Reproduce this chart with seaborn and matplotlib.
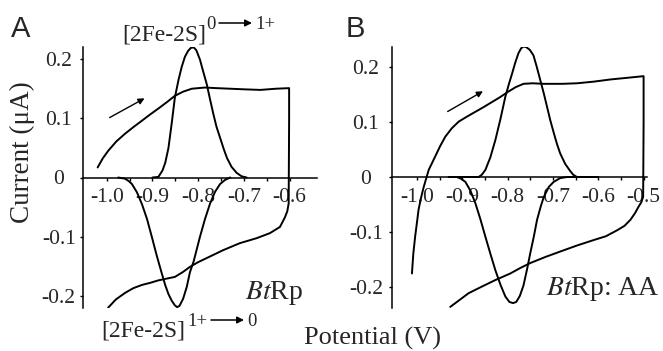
import numpy as np
import pandas as pd
import matplotlib
matplotlib.use("Agg")
import matplotlib.pyplot as plt
from matplotlib.patches import FancyArrowPatch
import seaborn as sns

# ---------------- data ----------------
# Panel A: raw cyclic voltammogram (forward then reverse sweep)
a_cv_v = [-1.020, -1.009, -0.997, -0.979, -0.960, -0.942, -0.923, -0.906, -0.888, -0.869,
          -0.851, -0.833, -0.814, -0.800, -0.785, -0.760, -0.730, -0.700, -0.664, -0.630,
          -0.601, -0.601, -0.602, -0.605, -0.610, -0.621, -0.643, -0.672, -0.709, -0.746,
          -0.781, -0.800, -0.818, -0.834, -0.851, -0.870, -0.888, -0.905, -0.923, -0.942,
          -0.960, -0.980, -0.997]
a_cv_i = [0.017, 0.032, 0.045, 0.061, 0.074, 0.085, 0.096, 0.106, 0.116, 0.127,
          0.138, 0.145, 0.150, 0.151, 0.152, 0.151, 0.150, 0.149, 0.148, 0.150,
          0.151, 0.100, -0.044, -0.057, -0.067, -0.0835, -0.094, -0.1025, -0.111, -0.123,
          -0.136, -0.143, -0.151, -0.160, -0.168, -0.171, -0.174, -0.178, -0.1815, -0.187,
          -0.195, -0.206, -0.220]
# Panel A: baseline-subtracted oxidation peak
a_ox_v = [-0.900, -0.887, -0.878, -0.872, -0.865, -0.858, -0.851, -0.843, -0.836, -0.829,
          -0.822, -0.816, -0.810, -0.804, -0.796, -0.789, -0.781, -0.774, -0.767, -0.760,
          -0.752, -0.744, -0.737, -0.727, -0.716, -0.705, -0.694]
a_ox_i = [0.0, 0.001, 0.012, 0.025, 0.050, 0.091, 0.135, 0.165, 0.187, 0.204,
          0.214, 0.219, 0.220, 0.215, 0.199, 0.179, 0.157, 0.132, 0.108, 0.086,
          0.067, 0.048, 0.033, 0.018, 0.008, 0.002, 0.0]
# Panel A: baseline-subtracted reduction peak
a_red_v = [-0.975, -0.960, -0.952, -0.945, -0.934, -0.923, -0.912, -0.9015, -0.891, -0.880,
           -0.872, -0.865, -0.858, -0.851, -0.846, -0.841, -0.833, -0.825, -0.818, -0.810,
           -0.796, -0.785, -0.774, -0.763, -0.752, -0.741, -0.730]
a_red_i = [0.0, -0.002, -0.006, -0.011, -0.025, -0.045, -0.070, -0.100, -0.131, -0.161,
           -0.182, -0.197, -0.208, -0.216, -0.219, -0.217, -0.205, -0.185, -0.160, -0.142,
           -0.100, -0.070, -0.044, -0.024, -0.011, -0.004, 0.0]

# Panel B: raw cyclic voltammogram
b_cv_v = [-1.011, -1.008, -1.004, -0.9995, -0.9965, -0.991, -0.985, -0.974, -0.960, -0.949,
          -0.9375, -0.923, -0.908, -0.890, -0.871, -0.852, -0.834, -0.816, -0.798, -0.782,
          -0.765, -0.745, -0.720, -0.680, -0.647, -0.610, -0.573, -0.536, -0.500, -0.500,
          -0.501, -0.505, -0.511, -0.519, -0.529, -0.542, -0.558, -0.583, -0.610, -0.647,
          -0.684, -0.717, -0.750, -0.772, -0.794, -0.827, -0.857, -0.886, -0.9265]
b_cv_i = [-0.176, -0.140, -0.109, -0.080, -0.060, -0.038, -0.018, 0.013, 0.037, 0.056,
          0.0735, 0.089, 0.101, 0.110, 0.119, 0.128, 0.137, 0.146, 0.156, 0.164,
          0.170, 0.171, 0.170, 0.170, 0.171, 0.174, 0.178, 0.181, 0.184, 0.100,
          -0.036, -0.046, -0.054, -0.066, -0.078, -0.089, -0.097, -0.108, -0.115, -0.125,
          -0.136, -0.146, -0.157, -0.166, -0.176, -0.188, -0.200, -0.212, -0.237]
# Panel B: oxidation peak
b_ox_v = [-0.910, -0.864, -0.857, -0.849, -0.838, -0.827, -0.816, -0.805, -0.797, -0.790,
          -0.783, -0.776, -0.770, -0.765, -0.759, -0.751, -0.743, -0.736, -0.728, -0.720,
          -0.713, -0.706, -0.698, -0.691, -0.684, -0.673, -0.662, -0.655, -0.647, -0.600]
b_ox_i = [0.0, 0.0, 0.004, 0.013, 0.036, 0.0675, 0.105, 0.1465, 0.170, 0.189,
          0.209, 0.226, 0.235, 0.238, 0.237, 0.232, 0.222, 0.202, 0.177, 0.152,
          0.128, 0.104, 0.080, 0.060, 0.043, 0.024, 0.011, 0.004, 0.0, 0.0]
# Panel B: reduction peak
b_red_v = [-0.930, -0.912, -0.903, -0.893, -0.882, -0.871, -0.860, -0.849, -0.838, -0.827,
           -0.816, -0.805, -0.796, -0.788, -0.781, -0.773, -0.765, -0.757, -0.750, -0.742,
           -0.735, -0.727, -0.720, -0.709, -0.698, -0.684, -0.669, -0.600]
b_red_i = [0.0, 0.0, -0.003, -0.009, -0.025, -0.048, -0.077, -0.109, -0.140, -0.170,
           -0.196, -0.218, -0.228, -0.230, -0.228, -0.217, -0.198, -0.168, -0.139, -0.108,
           -0.078, -0.054, -0.036, -0.018, -0.0086, -0.002, 0.0, 0.0]

y_ticks = [-0.2, -0.1, 0.0, 0.1, 0.2]
y_labels = ["-0.2", "-0.1", "0", "0.1", "0.2"]
a_x_ticks = [-1.0, -0.9, -0.8, -0.7, -0.6]
a_x_labels = ["-1.0", "-0.9", "-0.8", "-0.7", "-0.6"]
b_x_ticks = [-1.0, -0.9, -0.8, -0.7, -0.6, -0.5]
b_x_labels = ["-1.0", "-0.9", "-0.8", "-0.7", "-0.6", "-0.5"]

# ---------------- style ----------------
sns.set_theme(style="white")
plt.rcParams["font.family"] = ["Liberation Serif", "DejaVu Serif"]
plt.rcParams["mathtext.fontset"] = "stix"

W, H = 663, 351
fig = plt.figure(figsize=(W / 100, H / 100), dpi=100)


def px_axes(x0, y0, x1, y1):
    return fig.add_axes([x0 / W, 1 - y1 / H, (x1 - x0) / W, (y1 - y0) / H])


def draw(ax, curves):
    for v, i in curves:
        df = pd.DataFrame({"V": v, "I": i})
        sns.lineplot(data=df, x="V", y="I", sort=False, estimator=None,
                     color="black", lw=1.4, ax=ax, legend=False)


def style_axes(ax, xlim, ylim, xt, xl, ypad):
    ax.set_xlim(*xlim)
    ax.set_ylim(*ylim)
    ax.set_facecolor("none")
    for s in ["top", "right"]:
        ax.spines[s].set_visible(False)
    ax.spines["bottom"].set_position(("data", 0))
    for s in ["left", "bottom"]:
        ax.spines[s].set_color("black")
        ax.spines[s].set_linewidth(1.1)
    ax.set_xticks(xt)
    ax.set_xticklabels(xl)
    ax.set_xticks(np.arange(xt[0], xt[-1] + 0.001, 0.05), minor=True)
    ax.set_yticks(y_ticks)
    ax.set_yticklabels(y_labels)
    ax.tick_params(axis="x", which="both", direction="out", length=2.2, width=1,
                   color="black", pad=5.5, labelsize=15.5, bottom=True)
    ax.tick_params(axis="y", direction="out", length=2.2, width=1, color="black",
                   pad=ypad, labelsize=15.5, left=True)
    for t in ax.get_yticklabels():
        t.set_horizontalalignment("center")
    ax.set_xlabel("")
    ax.set_ylabel("")


# Panel A
axA = px_axes(83, 47, 317, 308)
draw(axA, [(a_cv_v, a_cv_i), (a_ox_v, a_ox_i), (a_red_v, a_red_i)])
style_axes(axA, (-1.052, -0.540), (-0.2205, 0.2205), a_x_ticks, a_x_labels, 15.3)
axA.annotate("", xy=(-0.912, 0.136), xytext=(-0.999, 0.099),
             arrowprops=dict(arrowstyle="-|>", color="black", lw=1.0, mutation_scale=9))

# Panel B
axB = px_axes(392, 47, 647, 308)
draw(axB, [(b_cv_v, b_cv_i), (b_ox_v, b_ox_i), (b_red_v, b_red_i)])
style_axes(axB, (-1.055, -0.4925), (-0.239, 0.2372), b_x_ticks, b_x_labels, 16.7)
axB.annotate("", xy=(-0.849, 0.159), xytext=(-0.9375, 0.117),
             arrowprops=dict(arrowstyle="-|>", color="black", lw=1.0, mutation_scale=9))


# Texts (figure pixel positions)
def ftext(x, y, s, **kw):
    fig.text(x / W, 1 - y / H, s, **kw)


def farrow(x0, x1, y):
    fig.add_artist(FancyArrowPatch((x0 / W, 1 - y / H), (x1 / W, 1 - y / H),
                                   transform=fig.transFigure, arrowstyle="-|>",
                                   mutation_scale=10, color="black", lw=1.1,
                                   shrinkA=0, shrinkB=0))


ftext(11, 37, "A", family="Liberation Sans", fontsize=21, ha="left", va="baseline")
ftext(346, 37, "B", family="Liberation Sans", fontsize=21, ha="left", va="baseline")

# top label: [2Fe-2S]^{0 -> 1+}
ftext(122, 41, "[2Fe-2S]", fontsize=17, ha="left", va="baseline")
ftext(206, 29, "0", fontsize=13.5, ha="left", va="baseline")
farrow(219, 252, 23)
ftext(255, 29, "1+", fontsize=13.5, ha="left", va="baseline")

# bottom label: [2Fe-2S]^{1+ -> 0}
ftext(101, 336, "[2Fe-2S]", fontsize=17, ha="left", va="baseline")
ftext(187, 326, "1+", fontsize=13.5, ha="left", va="baseline")
farrow(211, 244, 320)
ftext(247, 326, "0", fontsize=13.5, ha="left", va="baseline")

ftext(245, 299, r"$\mathit{Bt}$Rp", fontsize=20, ha="left", va="baseline")
ftext(546, 295, r"$\mathit{Bt}$Rp: AA", fontsize=20, ha="left", va="baseline")
ftext(372, 345, "Potential (V)", fontsize=19, ha="center", va="baseline")
ftext(22, 152, "Current (μA)", fontsize=19.5, rotation=90, ha="center", va="center")

fig.savefig("out.png", dpi=100)
